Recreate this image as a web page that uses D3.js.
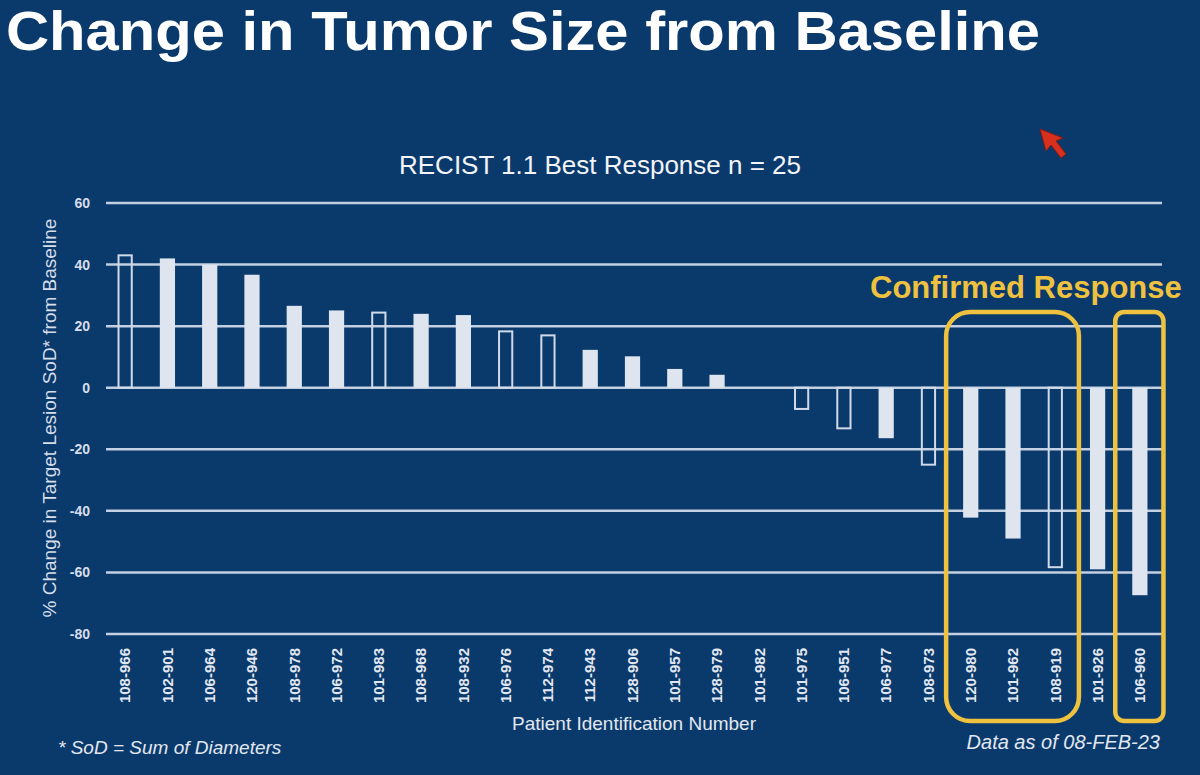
<!DOCTYPE html>
<html>
<head>
<meta charset="utf-8">
<script src="https://cdn.jsdelivr.net/npm/d3@7"></script>
<style>
  body { margin: 0; background: #0b3a6d; }
  svg { display: block; font-family: "Liberation Sans", Arial, sans-serif; }
</style>
</head>
<body>
<script>
// chart data
var patients = ["108-966", "102-901", "106-964", "120-946", "108-978", "106-972", "101-983",
  "108-968", "108-932", "106-976", "112-974", "112-943", "128-906", "101-957", "128-979",
  "101-982", "101-975", "106-951", "106-977", "108-973", "120-980", "101-962", "108-919",
  "101-926", "106-960"];
var change = [43, 42, 40, 36.7, 26.6, 25.1, 24.4, 24, 23.6, 18.3, 17, 12.3, 10.2, 6.1, 4.2,
  0, -6.9, -13.2, -16.4, -25, -42.2, -49, -58.3, -59, -67.4];
var outlined = [true, false, false, false, false, false, true, false, false, true, true, false,
  false, false, false, false, true, true, false, true, false, false, true, false, false];
var yTicks = [60, 40, 20, 0, -20, -40, -60, -80];
var confirmed = [["120-980", "101-962", "108-919"], ["106-960"]];

var W = 1200, H = 775;
var margin = {top: 203, right: 39, bottom: 141, left: 104};

var svg = d3.select("body").append("svg")
  .attr("width", W)
  .attr("height", H);

svg.append("rect").attr("width", W).attr("height", H).attr("fill", "#0a396c");

var x = d3.scaleBand()
  .domain(patients)
  .range([margin.left, W - margin.right])
  .paddingInner(0.64)
  .paddingOuter(0.32);

var y = d3.scaleLinear()
  .domain([-80, 60])
  .range([H - margin.bottom, margin.top]);

// title
svg.append("text")
  .attr("x", 6).attr("y", 50)
  .attr("fill", "#ffffff")
  .attr("font-size", 56)
  .attr("font-weight", "bold")
  .attr("textLength", 1034)
  .attr("lengthAdjust", "spacingAndGlyphs")
  .text("Change in Tumor Size from Baseline");

svg.append("text")
  .attr("x", 600).attr("y", 174)
  .attr("text-anchor", "middle")
  .attr("fill", "#f2f4f8")
  .attr("font-size", 26)
  .text("RECIST 1.1 Best Response n = 25");

// grid
svg.append("g").selectAll("line")
  .data(yTicks)
  .enter().append("line")
    .attr("x1", 106).attr("x2", 1162)
    .attr("y1", d => y(d)).attr("y2", d => y(d))
    .attr("stroke", "#c3d0e2")
    .attr("stroke-width", 2.5);

// y axis labels
var yAxis = svg.append("g")
  .attr("transform", "translate(" + margin.left + ",0)")
  .call(d3.axisLeft(y).tickValues(yTicks).tickSize(0).tickPadding(14).tickFormat(d => String(d)));
yAxis.select(".domain").remove();
yAxis.selectAll("text")
  .attr("fill", "#d6deea")
  .attr("font-size", 14)
  .attr("font-weight", "bold");

svg.append("text")
  .attr("transform", "translate(56," + 418 + ") rotate(-90)")
  .attr("text-anchor", "middle")
  .attr("fill", "#d6deea")
  .attr("font-size", 19)
  .text("% Change in Target Lesion SoD* from Baseline");

// bars
svg.append("g").selectAll("rect")
  .data(patients.map((p, i) => ({p: p, v: change[i], o: outlined[i]})).filter(d => d.v !== 0))
  .enter().append("rect")
    .attr("x", d => x(d.p) + (d.o ? 1 : 0))
    .attr("width", d => x.bandwidth() - (d.o ? 2 : 0))
    .attr("y", d => y(Math.max(0, d.v)))
    .attr("height", d => Math.abs(y(d.v) - y(0)))
    .attr("fill", d => d.o ? "none" : "#dee5ef")
    .attr("stroke", d => d.o ? "#d0dae8" : "none")
    .attr("stroke-width", 2);

// x axis labels
var xAxis = svg.append("g")
  .attr("transform", "translate(0," + (H - margin.bottom) + ")")
  .call(d3.axisBottom(x).tickSize(0).tickPadding(0));
xAxis.select(".domain").remove();
xAxis.selectAll("text")
  .attr("transform", "rotate(-90)")
  .attr("text-anchor", "end")
  .attr("x", -14)
  .attr("y", 0)
  .attr("dy", "0.35em")
  .attr("fill", "#e2e8f1")
  .attr("font-size", 15)
  .attr("font-weight", "bold");

svg.append("text")
  .attr("x", 634).attr("y", 730)
  .attr("text-anchor", "middle")
  .attr("fill", "#e2e8f1")
  .attr("font-size", 19)
  .text("Patient Identification Number");

svg.append("text")
  .attr("x", 58).attr("y", 754)
  .attr("fill", "#e2e8f1")
  .attr("font-size", 19)
  .attr("font-style", "italic")
  .text("* SoD = Sum of Diameters");

svg.append("text")
  .attr("x", 1160).attr("y", 749)
  .attr("text-anchor", "end")
  .attr("fill", "#e2e8f1")
  .attr("font-size", 20)
  .attr("font-style", "italic")
  .text("Data as of 08-FEB-23");

// confirmed response boxes
var boxes = svg.append("g");
confirmed.forEach(function(grp) {
  var x0 = x(grp[0]) - 17;
  var x1 = x(grp[grp.length - 1]) + x.bandwidth() + 16;
  boxes.append("rect")
    .attr("x", x0).attr("y", 312)
    .attr("width", x1 - x0).attr("height", 409)
    .attr("rx", grp.length > 1 ? 24 : 9)
    .attr("fill", "none")
    .attr("stroke", "#eec13f")
    .attr("stroke-width", 4.5);
});

svg.append("text")
  .attr("x", 870).attr("y", 298)
  .attr("fill", "#eec13f")
  .attr("font-size", 31)
  .attr("font-weight", "bold")
  .text("Confirmed Response");

// mouse pointer in the slide photo
svg.append("path")
  .attr("d", "M1040,129 L1046,151 L1051,145 L1061,158 L1066,154 L1056,141 L1063,138 Z")
  .attr("fill", "#d8301e")
  .attr("stroke", "#8a1a10")
  .attr("stroke-width", 1);
</script>
</body>
</html>
